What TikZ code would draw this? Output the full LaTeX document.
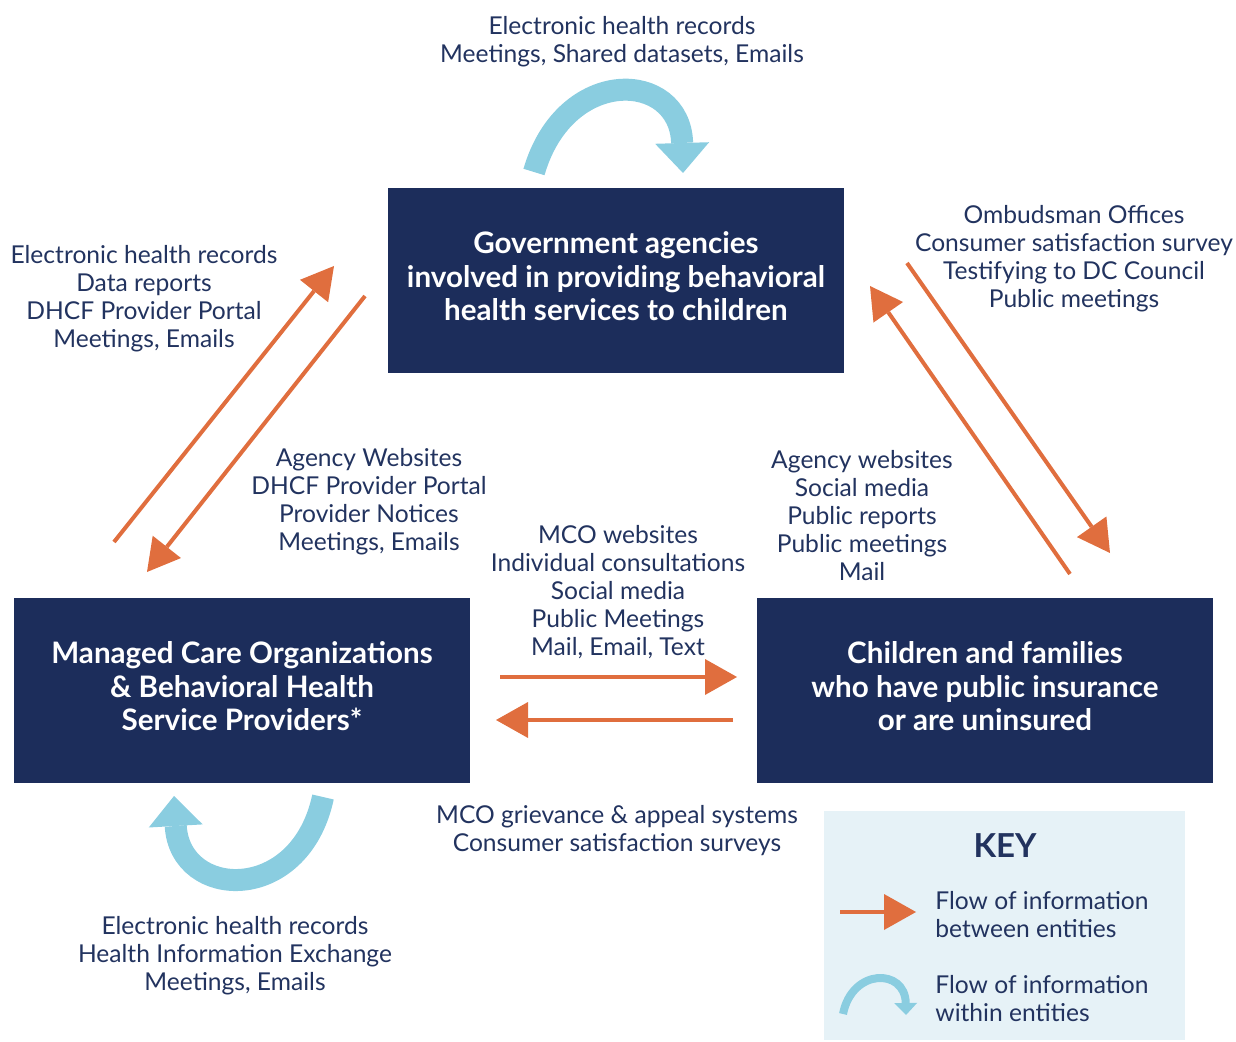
\documentclass[tikz,border=0pt]{standalone}
\usepackage{fontspec}
\setmainfont{Lato}
\usepackage{tikz}
\usetikzlibrary{arrows.meta,positioning,calc}
\definecolor{navy}{HTML}{1C2D5B}
\definecolor{inknavy}{HTML}{22335F}
\definecolor{flow}{HTML}{E06E3E}
\definecolor{loopblue}{HTML}{8ACDE0}
\definecolor{keybg}{HTML}{E6F2F7}

\begin{document}
\begin{tikzpicture}[x=0.5pt,y=-0.5pt,
    entity/.style={fill=navy,minimum width=228pt,minimum height=92.5pt,inner sep=0pt,
      align=center,text=white,font=\fontsize{14.8}{16.75}\selectfont\bfseries},
    channel/.style={align=center,text=inknavy,inner sep=0pt,font=\fontsize{12.3}{14}\selectfont},
    between/.style={flow,line width=2pt,-{Triangle[length=16pt,width=18pt,line width=0pt]}},
    within/.style={loopblue,line width=11pt,-{Triangle[length=15pt,width=27pt,line width=0pt]}}]
      \useasboundingbox (0,0) rectangle (1236,1042);
      % the three entities
      \node[entity] (gov) at (616,280.5)
        {Government agencies\\involved in providing behavioral\\health services to children\\[-12.5pt]};
      \node[entity] (mco) at (242,690.5)
        {Managed Care Organizations\\\& Behavioral Health\\Service Providers*\\[-12.5pt]};
      \node[entity] (kids) at (985,690.5)
        {Children and families\\who have public insurance\\or are uninsured\\[-12.5pt]};
      % channels
      \node[channel] (govloop) at (622,42)
        {Electronic health records\\Meetings, Shared datasets, Emails};
      \node[channel] (mcotogov) at (144,299)
        {Electronic health records\\Data reports\\DHCF Provider Portal\\Meetings, Emails};
      \node[channel] (govtomco) at (369,502)
        {Agency Websites\\DHCF Provider Portal\\Provider Notices\\Meetings, Emails};
      \node[channel] (kidstogov) at (1074,259)
        {Ombudsman Offices\\Consumer satisfaction survey\\Testifying to DC Council\\Public meetings};
      \node[channel] (govtokids) at (862,516)
        {Agency websites\\Social media\\Public reports\\Public meetings\\Mail};
      \node[channel] (mcotokids) at (618,592)
        {MCO websites\\Individual consultations\\Social media\\Public Meetings\\Mail, Email, Text};
      \node[channel] (kidstomco) at (617,831)
        {MCO grievance \& appeal systems\\Consumer satisfaction surveys};
      \node[channel] (mcoloop) at (235,956)
        {Electronic health records\\Health Information Exchange\\Meetings, Emails};
      % flows between entities
      \coordinate (mcoout) at (114,542);
      \coordinate (govin) at (334,266);
      \coordinate (govout) at (365,296);
      \coordinate (mcoin) at (147,572);
      \draw[between] (mcoout) -- (govin);
      \draw[between] (govout) -- (mcoin);
      \coordinate (kidsout) at (1070,574);
      \coordinate (govinr) at (870,286);
      \coordinate (govoutr) at (907,263);
      \coordinate (kidsin) at (1110,553);
      \draw[between] (kidsout) -- (govinr);
      \draw[between] (govoutr) -- (kidsin);
      \coordinate (mcooutr) at (500,677);
      \coordinate (kidsinl) at (737,677);
      \coordinate (kidsoutl) at (733,720);
      \coordinate (mcoinr) at (496,720);
      \draw[between] (mcooutr) -- (kidsinl);
      \draw[between] (kidsoutl) -- (mcoinr);
      % flows within entities
      \draw[within] (534,172) .. controls (565,65) and (680,70) .. (683,173);
      \draw[within] (323,797) .. controls (300,905) and (180,900) .. (174,796);
      % key
      \node[fill=keybg,minimum width=180.5pt,minimum height=114.5pt,inner sep=0pt] (keybox) at (1004.5,925.5) {};
      \node[text=inknavy,font=\fontsize{16.5}{18}\selectfont\bfseries] (keytitle) at (1005,846) {KEY};
      \node[channel,align=left,anchor=west] (keybetween) at (935,915)
        {Flow of information\\between entities};
      \node[channel,align=left,anchor=west] (keywithin) at (935,999)
        {Flow of information\\within entities};
      \coordinate (keyfrom) at (840,912);
      \coordinate (keyto) at (916,912);
      \draw[between] (keyfrom) -- (keyto);
      \draw[within,line width=4pt,-{Triangle[length=6pt,width=11.5pt,line width=0pt]}]
        (843,1014) .. controls (852,968) and (905,968) .. (906,1015);
\end{tikzpicture}
\end{document}
